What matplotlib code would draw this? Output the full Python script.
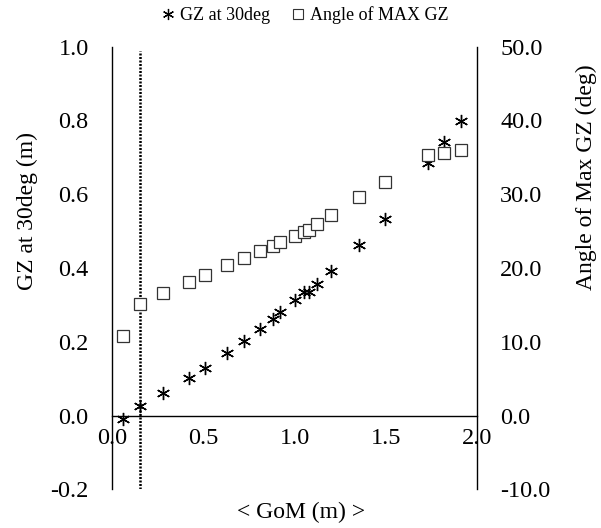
import matplotlib
matplotlib.use("Agg")
import matplotlib.pyplot as plt
from matplotlib.lines import Line2D

plt.rcParams['font.family'] = ['Liberation Serif', 'DejaVu Serif']

# Data
gom = [0.057, 0.152, 0.279, 0.420, 0.510, 0.630, 0.720, 0.810, 0.878, 0.920,
       1.001, 1.048, 1.079, 1.120, 1.198, 1.352, 1.492, 1.730, 1.818, 1.908]
gz30 = [-0.009, 0.025, 0.060, 0.102, 0.130, 0.169, 0.202, 0.235, 0.262, 0.281,
        0.314, 0.335, 0.335, 0.356, 0.391, 0.462, 0.532, 0.684, 0.742, 0.798]
angle_max = [10.8, 15.1, 16.6, 18.1, 19.1, 20.4, 21.3, 22.3, 23.0, 23.5,
             24.4, 24.9, 25.1, 26.0, 27.2, 29.6, 31.6, 35.3, 35.6, 36.0]
gom_limit = 0.152

xticks = [0.0, 0.5, 1.0, 1.5, 2.0]
yticks_left = [-0.2, 0.0, 0.2, 0.4, 0.6, 0.8, 1.0]
yticks_right = [-10, 0, 10, 20, 30, 40, 50]

W, H = 601, 528
fig = plt.figure(figsize=(W / 100, H / 100), dpi=100)
ax = fig.add_axes([0.1869, 0.0733, 0.6073, 0.8383])
ax2 = ax.twinx()

star = (6, 2, 0)
ax.plot(gom, gz30, linestyle='none', marker=star, markersize=9.5,
        markeredgewidth=1.0, color='black', zorder=3)
ax2.plot(gom, angle_max, linestyle='none', marker='s', markersize=8,
         markerfacecolor='white', markeredgecolor='#333333',
         markeredgewidth=0.9, zorder=3)

ax.axvline(gom_limit, ymax=0.99, color='black', linewidth=1.8,
           dashes=(0.8, 0.6))

ax.set_xlim(0, 2)
ax.set_ylim(-0.2, 1.0)
ax2.set_ylim(-10, 50)

ax.set_xticks(xticks)
ax.set_xticklabels([f"{v:.1f}" for v in xticks])
ax.set_yticks(yticks_left)
ax.set_yticklabels([f"{v:.1f}" for v in yticks_left])
ax2.set_yticks(yticks_right)
ax2.set_yticklabels([f"{v:.1f}" for v in yticks_right])

for a in (ax, ax2):
    a.spines['top'].set_visible(False)
    for s in a.spines.values():
        s.set_linewidth(1.0)
ax.spines['bottom'].set_position(('data', 0))
ax2.spines['bottom'].set_visible(False)
ax.spines['right'].set_visible(False)
ax2.spines['left'].set_visible(False)

ax.tick_params(axis='x', length=0, pad=9, labelsize=17.5)
ax.tick_params(axis='y', length=0, pad=17, labelsize=17.5)
ax2.tick_params(axis='y', length=0, pad=16.5, labelsize=17.5)

fig.text(27 / W, 1 - 290 / H, "GZ at 30deg (m)", rotation=90, ha='center',
         va='bottom', fontsize=17)
fig.text(586 / W, 1 - 290 / H, "Angle of Max GZ (deg)", rotation=90,
         ha='center', va='bottom', fontsize=17)
fig.text(301 / W, 1 - 512 / H, "< GoM (m) >", ha='center', va='center',
         fontsize=17)

handles = [Line2D([], [], linestyle='none', marker=star, markersize=8,
                  markeredgewidth=0.9, color='black'),
           Line2D([], [], linestyle='none', marker='s', markersize=7.5,
                  markerfacecolor='white', markeredgecolor='#333333',
                  markeredgewidth=0.8)]
fig.legend(handles, ["GZ at 30deg", "Angle of MAX GZ"], loc='center',
           bbox_to_anchor=(304 / W, 1 - 15 / H), ncol=2, frameon=False,
           fontsize=13, handletextpad=0.2, columnspacing=1.1,
           handlelength=0.9, borderpad=0)

fig.savefig("out.png", dpi=100)
